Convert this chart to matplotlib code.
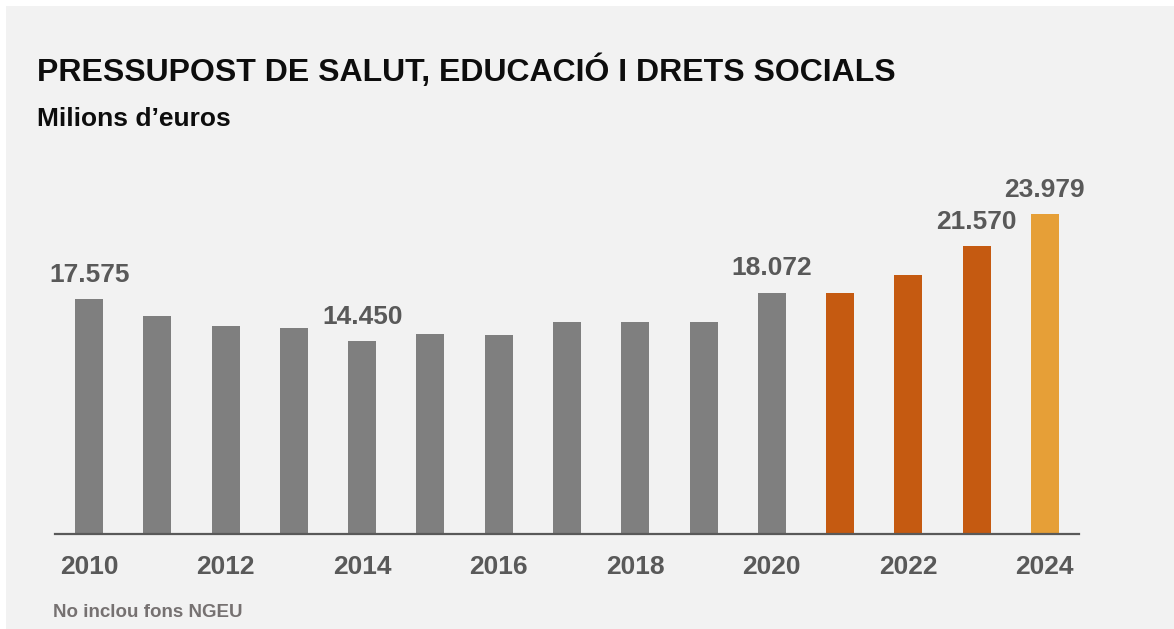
import matplotlib
matplotlib.use("Agg")
import matplotlib.pyplot as plt
from matplotlib.patches import Rectangle

years = list(range(2010, 2025))
values = [17575, 16370, 15550, 15470, 14450, 14950, 14870, 15920, 15920, 15920,
          18072, 18090, 19380, 21570, 23979]
labelled_years = [2010, 2014, 2020, 2023, 2024]
tick_years = [2010, 2012, 2014, 2016, 2018, 2020, 2022, 2024]
title = "PRESSUPOST DE SALUT, EDUCACIÓ I DRETS SOCIALS"
subtitle = "Milions d\u2019euros"
footnote = "No inclou fons NGEU"

GRAY = "#7f7f7f"
ORANGE = "#c55a11"
LIGHT = "#e69f37"
TXT = "#595959"
colors = [GRAY] * 11 + [ORANGE] * 3 + [LIGHT]

plt.rcParams['font.family'] = ['Liberation Sans', 'DejaVu Sans']

W, H = 1174, 629
fig = plt.figure(figsize=(W / 100, H / 100), dpi=100)
fig.patch.set_facecolor("white")
fig.patches.append(Rectangle((6 / W, 0), 1, 1 - 6 / H, transform=fig.transFigure,
                             facecolor="#f2f2f2", edgecolor="none", zorder=-10))

ymax = 26000
px_per_unit = 1 / 75.1
base_px = 533.5
top_px = base_px - ymax * px_per_unit
ax = fig.add_axes([55 / W, 1 - base_px / H, (1079 - 55) / W, (base_px - top_px) / H])
ax.set_facecolor("none")

x = list(range(len(years)))
ax.bar(x, values, width=0.41, color=colors, zorder=2)
ax.set_xlim(-0.5, len(years) - 0.5)
ax.set_ylim(0, ymax)

for xi, yr, v in zip(x, years, values):
    if yr in labelled_years:
        ax.annotate(f"{v:,}".replace(",", "."), (xi, v), xytext=(0, 12.5),
                    textcoords="offset points", ha="center", va="baseline",
                    fontsize=19, fontweight="bold", color=TXT)

ax.set_xticks([years.index(t) for t in tick_years])
ax.set_xticklabels([str(t) for t in tick_years], fontsize=19, fontweight="bold", color=TXT)
ax.tick_params(axis="x", length=0, pad=15.5)
ax.set_yticks([])
for s in ["top", "right", "left"]:
    ax.spines[s].set_visible(False)
ax.spines["bottom"].set_color(TXT)
ax.spines["bottom"].set_linewidth(1.6)

fig.text(37 / W, 1 - 81 / H, title, fontsize=23, fontweight="bold", color="#0d0d0d",
         ha="left", va="baseline")
fig.text(37 / W, 1 - 126 / H, subtitle, fontsize=19, fontweight="bold", color="#0d0d0d",
         ha="left", va="baseline")
fig.text(53 / W, 1 - 617 / H, footnote, fontsize=13.5, fontweight="bold", color="#767171",
         ha="left", va="baseline")

fig.savefig("out.png", dpi=100, facecolor=fig.get_facecolor())
